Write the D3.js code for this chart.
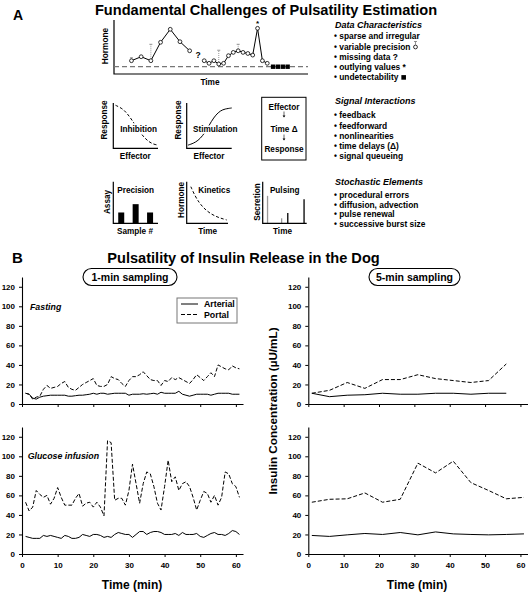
<!DOCTYPE html>
<html><head><meta charset="utf-8">
<script src="https://cdn.jsdelivr.net/npm/d3@7"></script>
<style>
body{margin:0;background:#fff}
svg{display:block}
text{font-family:"Liberation Sans",Arial,Helvetica,sans-serif;font-weight:bold;fill:#000}
</style>
</head><body><svg id="c" width="529" height="594"></svg>
<script>
// ---------------- DATA ----------------
// Panel A: schematic hormone series (arbitrary units)
const hormoneTime  = [9,14,19,24,29,34,39,null,46.5,49,51.5,54,56.5,59,61.5,64,66.5,69,71.5,74,76.5,79];
const hormoneValue = [24.6,32,24.6,58.7,82.8,59.8,43,null,24.6,19.8,24.6,18.5,19.8,33.9,40,43,40,38,35,84.6,24.6,19.8];
const undetectTime = [82,84.5,87,89.5];
const detectionLimit = 13.5;
const errIndex = [0,2,11,15];
const errHigh  = [30,55,44,55];
const outlierIndex = 19;

const inhibX = [0.5,2,3,4,5,6,7,8,9,10];
const inhibY = [9.5,8.8,7.8,6.5,5,3.5,2.3,1.4,0.9,0.7];
const stimX = [0.3,1.5,2.5,3.5,4.5,5.5,6.5,7.5,8.5,10];
const stimY = [0.7,1.1,1.7,2.7,4.2,6,7.4,8.3,8.7,8.9];
const precisionSample = [1,2,3];
const precisionValue = [2.6,4.6,2.6];
const kinTime = [1,2,3,4,5,6,7,8,9,9.7];
const kinValue = [8.8,6.6,5,3.8,2.9,2.2,1.7,1.3,1.0,0.8];
const pulseTime = [1.1,4.3,5.7,9.4];
const pulseSize = [6.6,1.2,2.5,5.8];
const pulseColor = ["#999","#999","#000","#000"];

const dataChars = ["sparse and irregular","variable precision","missing data ?","outlying values *","undetectability"];
const signalInts = ["feedback","feedforward","nonlinearities","time delays (\u0394)","signal queueing"];
const stochastic = ["procedural errors","diffusion, advection","pulse renewal","successive burst size"];

// Panel B: insulin (µU/mL)
const minute1 = d3.range(1,62);
const fastArterial1 = [11,10,6,5,7,8,8.5,9,9,9, 9,9,8,8,8.5,9,9,9.5,10,11, 10,11,11,10,10.5,11,11,11,11,9, 10,10,10,10.5,10,10.5,11,10,12,11, 11,11,11,13,10,9,8,9,10,10, 10,10,9,10,11,11,11,11,10,10,10];
const fastPortal1 = [11,10,5,7,8,15,19,16,17,18, 21,23,17,15,14,17,20,22,24,26, 19,18,18,20,28,26,25,21,18,24, 28,28,30,33,29,25,24,24,19,24, 23,27,25,27,25,23,21,25,30,27, 24,28,32,28,40,38,36,35,39,37,36];
const glucArterial1 = [18,17,16,16,16,19,18,19,18,17, 16,19,18,16,16,17,20,19,18,20, 20,19,17,18,17,20,22,21,20,20, 17,20,23,23,20,22,23,23,22,20, 20,20,21,19,22,20,20,20,21,18, 17,19,21,22,20,20,19,21,24,23,20];
const glucPortal1 = [53,44,48,65,61,58,60,51,57,68, 58,50,50,50,57,62,49,52,53,48, 53,48,39,116,114,55,57,57,50,65, 92,72,52,72,84,82,69,52,45,69, 96,74,79,65,72,74,69,58,45,55, 64,62,53,60,50,58,84,82,72,69,58];

const minute5 = [1,6,11,16,21,26,31,36,41,46,51,56,61];
const fastArterial5 = [11,7.5,9,9.5,11,10,10,11,11,10,11,11];
const fastPortal5 = [11,14,22,16,25,25,30,26,24,22,24,41];
const glucArterial5 = [19,18,19.6,21,20,22,19.6,22.6,20.6,20,19.6,20,20.6];
const glucPortal5 = [53,56,56.5,62.5,53,56,93,83,95,73,65,56.5,58];

const yTicks = [0,20,40,60,80,100,120];
const xTicks = [0,10,20,30,40,50,60];

// ---------------- DRAW ----------------
const svg = d3.select("#c");

function T(x,y,s,size,opt={}){
  const t = svg.append("text").attr("x",x).attr("y",y).text(s).style("font-size",size+"px");
  if(opt.anchor) t.attr("text-anchor",opt.anchor);
  if(opt.italic) t.style("font-style","italic");
  if(opt.rot) t.attr("transform",`rotate(-90,${x},${y})`);
  if(opt.halo) t.attr("stroke","#fff").attr("stroke-width",3).attr("paint-order","stroke");
  return t;
}
function Laxes(x0,x1,y0,y1){
  svg.append("path").attr("d",`M${x0},${y0}V${y1}H${x1}`).attr("fill","none").attr("stroke","#000").attr("stroke-width",1.2);
}

// ---- Panel A ----
T(13,20,"A",14);
T(266,15,"Fundamental Challenges of Pulsatility Estimation",14.6,{anchor:"middle"});

const xH = d3.scaleLinear().domain([0,100]).range([114,308]);
const yH = d3.scaleLinear().domain([0,100]).range([74,20]);
Laxes(114,308,20,74);
svg.append("line").attr("x1",xH(0)).attr("x2",xH(100)).attr("y1",yH(detectionLimit)).attr("y2",yH(detectionLimit))
  .attr("stroke","#777").attr("stroke-width",1.2).attr("stroke-dasharray","5,3");
const hpts = hormoneTime.map((t,i)=>({t,v:hormoneValue[i]}));
errIndex.forEach((k,j)=>{
  const p=hpts[k];
  svg.append("line").attr("x1",xH(p.t)).attr("x2",xH(p.t)).attr("y1",yH(p.v)).attr("y2",yH(errHigh[j]))
    .attr("stroke","#999").attr("stroke-width",1).attr("stroke-dasharray","1,1");
  svg.append("line").attr("x1",xH(p.t)-1.5).attr("x2",xH(p.t)+1.5).attr("y1",yH(errHigh[j])).attr("y2",yH(errHigh[j]))
    .attr("stroke","#777").attr("stroke-width",0.8);
});
svg.append("path").datum(hpts).attr("fill","none").attr("stroke","#000").attr("stroke-width",1)
  .attr("d",d3.line().defined(d=>d.v!=null).x(d=>xH(d.t)).y(d=>yH(d.v)));
svg.selectAll(".hp").data(hpts.filter(d=>d.v!=null)).enter().append("circle")
  .attr("cx",d=>xH(d.t)).attr("cy",d=>yH(d.v)).attr("r",1.9).attr("fill","#fff").attr("stroke","#000").attr("stroke-width",0.8);
svg.selectAll(".uq").data(undetectTime).enter().append("rect")
  .attr("x",d=>xH(d)-2.2).attr("y",yH(detectionLimit)-2.2).attr("width",4.4).attr("height",4.4).attr("fill","#000");
T(198,58,"?",8.5,{anchor:"middle"});
T(xH(hpts[outlierIndex].t),yH(hpts[outlierIndex].v)-2,"*",8,{anchor:"middle"});
T(108,46,"Hormone",8.3,{anchor:"middle",rot:true});
T(210,85,"Time",8.3,{anchor:"middle"});

// Inhibition
const xI = d3.scaleLinear().domain([0,10]).range([113.3,158]);
const yI = d3.scaleLinear().domain([0,10]).range([148.3,103]);
Laxes(113.3,158,103,148.3);
svg.append("path").datum(inhibX.map((x,i)=>[x,inhibY[i]])).attr("fill","none").attr("stroke","#000")
  .attr("stroke-dasharray","3,2").attr("d",d3.line().curve(d3.curveBasis).x(d=>xI(d[0])).y(d=>yI(d[1])));
T(138.7,131.5,"Inhibition",8.2,{anchor:"middle",halo:true});
T(106.5,120,"Response",8.2,{anchor:"middle",rot:true});
T(135.3,158.5,"Effector",8.2,{anchor:"middle"});

// Stimulation
const xS = d3.scaleLinear().domain([0,10]).range([186.7,231.7]);
const yS = d3.scaleLinear().domain([0,10]).range([148.3,103]);
Laxes(186.7,231.7,103,148.3);
svg.append("path").datum(stimX.map((x,i)=>[x,stimY[i]])).attr("fill","none").attr("stroke","#000")
  .attr("d",d3.line().curve(d3.curveBasis).x(d=>xS(d[0])).y(d=>yS(d[1])));
T(215.3,131.5,"Stimulation",8.2,{anchor:"middle",halo:true});
T(180.5,120,"Response",8.2,{anchor:"middle",rot:true});
T(209,158.5,"Effector",8.2,{anchor:"middle"});

// Box
svg.append("rect").attr("x",261.7).attr("y",97.3).attr("width",44.3).attr("height",62.7).attr("fill","none").attr("stroke","#000").attr("stroke-width",1);
T(284,109.5,"Effector",8.2,{anchor:"middle"});
T(284,132,"Time \u0394",8.2,{anchor:"middle"});
T(284,151.5,"Response",8.2,{anchor:"middle"});
[[111.5,117.5],[134.5,140.5]].forEach(([a,b])=>{
  svg.append("line").attr("x1",284).attr("x2",284).attr("y1",a).attr("y2",b-1).attr("stroke","#000").attr("stroke-width",0.6);
  svg.append("path").attr("d",`M282.6,${b-2}L285.4,${b-2}L284,${b}Z`).attr("fill","#000");
});

// Precision
const xP = d3.scalePoint().domain(precisionSample).range([113.3,158]).padding(0.55);
const yP = d3.scaleLinear().domain([0,10]).range([223.3,181.7]);
svg.selectAll(".pb").data(precisionSample).enter().append("rect")
  .attr("x",d=>xP(d)-3).attr("width",6).attr("y",(d,i)=>yP(precisionValue[i])).attr("height",(d,i)=>yP(0)-yP(precisionValue[i])).attr("fill","#000");
Laxes(113.3,158,181.7,223.3);
T(135.7,192.5,"Precision",8.2,{anchor:"middle"});
T(110,202,"Assay",8.2,{anchor:"middle",rot:true});
T(135,234,"Sample #",8.2,{anchor:"middle"});

// Kinetics
const xK = d3.scaleLinear().domain([0,10]).range([186.7,228]);
const yK = d3.scaleLinear().domain([0,10]).range([223.3,181.7]);
Laxes(186.7,228,181.7,223.3);
svg.append("path").datum(kinTime.map((x,i)=>[x,kinValue[i]])).attr("fill","none").attr("stroke","#000")
  .attr("stroke-dasharray","3,2").attr("d",d3.line().curve(d3.curveBasis).x(d=>xK(d[0])).y(d=>yK(d[1])));
T(214.3,192.5,"Kinetics",8.2,{anchor:"middle",halo:true});
T(183.5,200,"Hormone",8.2,{anchor:"middle",rot:true});
T(207.7,234,"Time",8.2,{anchor:"middle"});

// Pulsing
const xU = d3.scaleLinear().domain([0,10]).range([262.7,306.7]);
const yU = d3.scaleLinear().domain([0,10]).range([223.3,181.7]);
svg.selectAll(".pl").data(pulseTime).enter().append("line")
  .attr("x1",d=>xU(d)).attr("x2",d=>xU(d)).attr("y1",yU(0)).attr("y2",(d,i)=>yU(pulseSize[i]))
  .attr("stroke",(d,i)=>pulseColor[i]).attr("stroke-width",1.3);
Laxes(262.7,306.7,181.7,223.3);
T(284.7,192.5,"Pulsing",8.2,{anchor:"middle"});
T(259.5,202,"Secretion",8.2,{anchor:"middle",rot:true});
T(282.5,234,"Time",8.2,{anchor:"middle"});

// Right-hand text
function block(title,items,yTitle,y0,step){
  T(335,yTitle,title,9,{italic:true});
  items.forEach((s,i)=>{ T(334,y0+i*step,"\u2022 "+s,8.4); });
}
block("Data Characteristics",dataChars,27.5,39.2,10.3);
block("Signal Interactions",signalInts,104,118.2,10.3);
block("Stochastic Elements",stochastic,185,198,9.7);
// symbols after "variable precision" and "undetectability"
(function(){
  const tmp = T(334,-50,"\u2022 "+dataChars[1],8.4);
  const w1 = tmp.node().getComputedTextLength(); tmp.remove();
  const cx = 334+w1+5, cy = 49.5-2.5;
  svg.append("circle").attr("cx",cx).attr("cy",cy).attr("r",1.9).attr("fill","#fff").attr("stroke","#000").attr("stroke-width",0.8);
  svg.append("line").attr("x1",cx).attr("x2",cx).attr("y1",cy-2).attr("y2",cy-5.5).attr("stroke","#777").attr("stroke-width",0.8);
  svg.append("line").attr("x1",cx-1.5).attr("x2",cx+1.5).attr("y1",cy-5.5).attr("y2",cy-5.5).attr("stroke","#777").attr("stroke-width",0.8);
  const tmp2 = T(334,-50,"\u2022 "+dataChars[4],8.4);
  const w2 = tmp2.node().getComputedTextLength(); tmp2.remove();
  svg.append("rect").attr("x",334+w2+3).attr("y",80.3-5.2).attr("width",4.6).attr("height",4.6).attr("fill","#000");
})();

// ---- Panel B ----
T(12,263,"B",15);
T(243.5,263,"Pulsatility of Insulin Release in the Dog",14.6,{anchor:"middle"});

function pill(x,w,label){
  svg.append("rect").attr("x",x).attr("y",268.5).attr("width",w).attr("height",17).attr("rx",8.5)
    .attr("fill","#fff").attr("stroke","#000").attr("stroke-width",1.1);
  T(x+w/2,281,label,10.5,{anchor:"middle"});
}

const xL = d3.scaleLinear().domain([0,62]).range([22,243]);
const xR = d3.scaleLinear().domain([0,62]).range([308.3,527.5]);
const yTop = d3.scaleLinear().domain([0,130]).range([404,277]);
const yBot = d3.scaleLinear().domain([0,130]).range([554,427]);

function panel(x,y,showX,times,art,por){
  const g = svg.append("g");
  const ax = g.append("g").attr("transform",`translate(${x.range()[0]},0)`)
    .call(d3.axisLeft(y).tickValues(yTicks).tickSize(3).tickSizeOuter(0).tickPadding(4));
  const bx = g.append("g").attr("transform",`translate(0,${y.range()[0]})`)
    .call(d3.axisBottom(x).tickValues(xTicks).tickSize(3).tickSizeOuter(0).tickPadding(5.5).tickFormat(showX?d3.format("d"):()=>""));
  [ax,bx].forEach(a=>{
    a.selectAll("text").style("font-size","8px").style("font-weight","bold").style("font-family",'"Liberation Sans",Arial,sans-serif');
    a.select(".domain").attr("stroke","#000").attr("stroke-width",1.1);
    a.selectAll(".tick line").attr("stroke","#000");
  });
  const la = times.slice(0,art.length).map((t,i)=>[t,art[i]]);
  const lp = times.slice(0,por.length).map((t,i)=>[t,por[i]]);
  const line = d3.line().x(d=>x(d[0])).y(d=>y(d[1]));
  g.append("path").datum(la).attr("fill","none").attr("stroke","#000").attr("stroke-width",1).attr("d",line);
  g.append("path").datum(lp).attr("fill","none").attr("stroke","#000").attr("stroke-width",1).attr("stroke-dasharray","4,2").attr("d",line);
}
panel(xL,yTop,false,minute1,fastArterial1,fastPortal1);
panel(xL,yBot,true,minute1,glucArterial1,glucPortal1);
panel(xR,yTop,false,minute5,fastArterial5,fastPortal5);
panel(xR,yBot,true,minute5,glucArterial5,glucPortal5);

pill(83,94,"1-min sampling");
pill(369,91,"5-min sampling");

T(30,309.5,"Fasting",8.8,{italic:true});
T(27.7,459,"Glucose infusion",8.8,{italic:true});

// legend
svg.append("rect").attr("x",177).attr("y",298).attr("width",60).attr("height",25).attr("fill","#fff").attr("stroke","#777").attr("stroke-width",1);
svg.append("line").attr("x1",181).attr("x2",198).attr("y1",304).attr("y2",304).attr("stroke","#000");
svg.append("line").attr("x1",181).attr("x2",198).attr("y1",314.5).attr("y2",314.5).attr("stroke","#000").attr("stroke-dasharray","4,2");
T(204,307,"Arterial",8.8);
T(204,317.5,"Portal",8.8);

T(132,589,"Time (min)",12,{anchor:"middle"});
T(417,589,"Time (min)",12,{anchor:"middle"});
T(277,411,"Insulin Concentration (\u00b5U/mL)",11.7,{anchor:"middle",rot:true});
</script></body></html>
